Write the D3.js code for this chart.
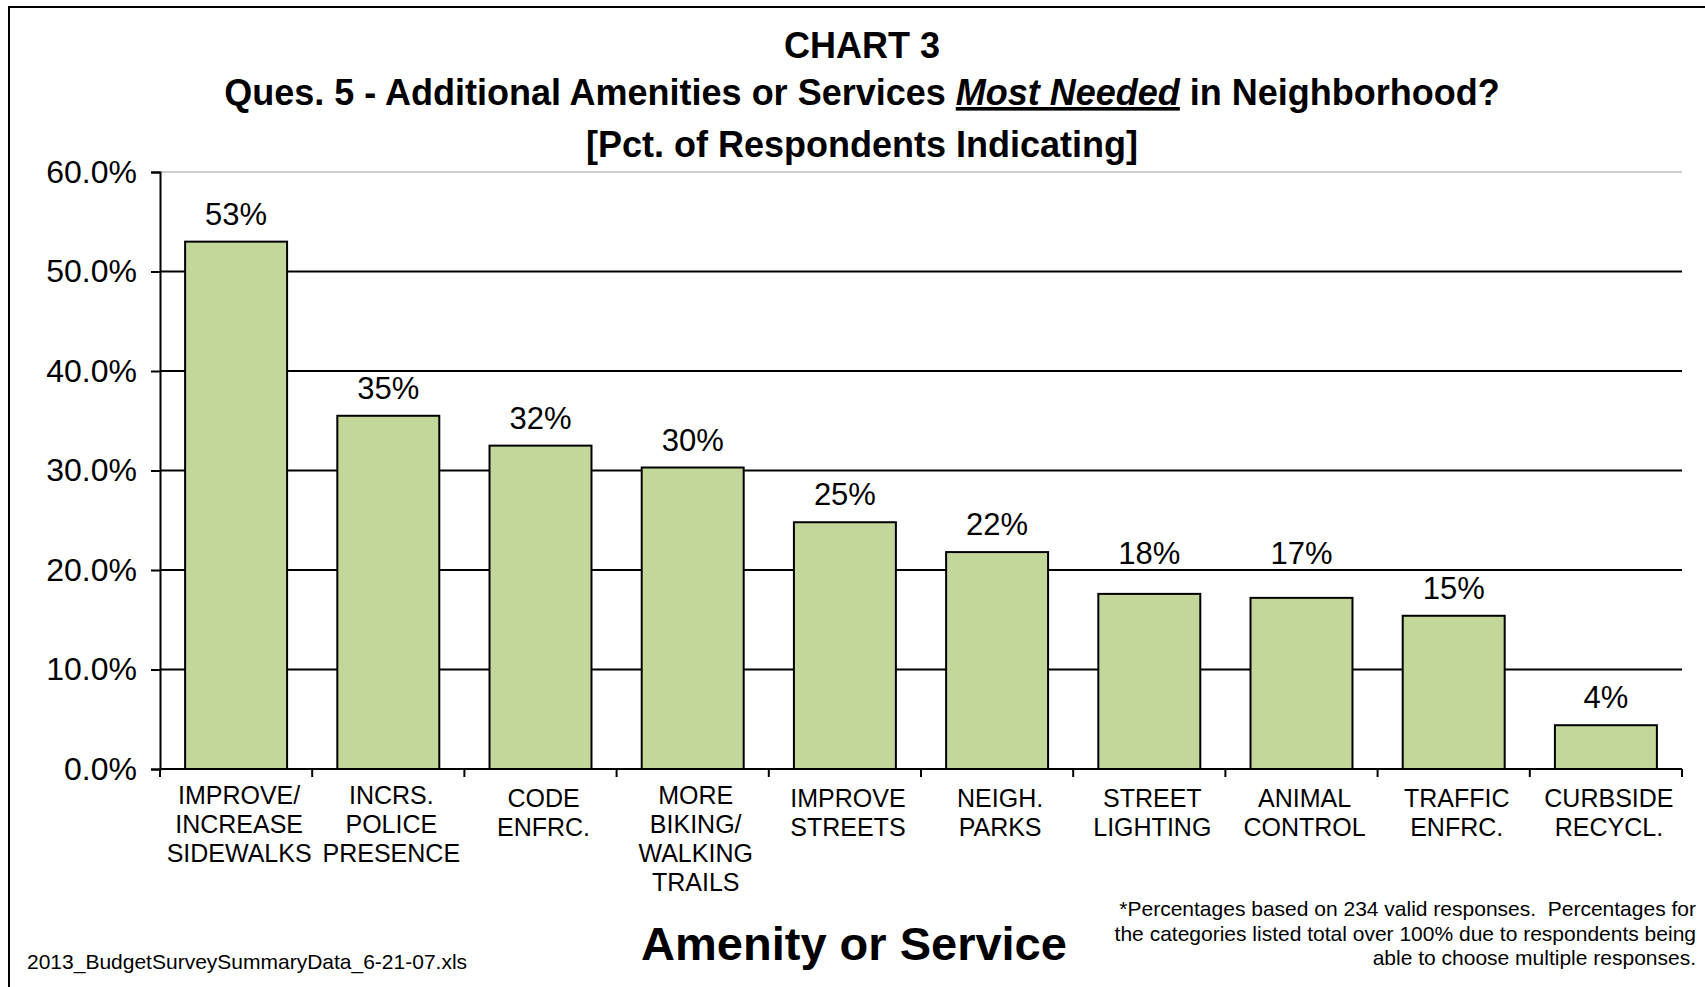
<!DOCTYPE html>
<html>
<head>
<meta charset="utf-8">
<script src="https://cdn.jsdelivr.net/npm/d3@7"></script>
<style>
  body { margin: 0; background: #fff; }
  text { font-family: "Liberation Sans", Arial, sans-serif; fill: #000; }
</style>
</head>
<body>
<div id="chart"></div>
<script>
// data
const categories = [
  ["IMPROVE/", "INCREASE", "SIDEWALKS"],
  ["INCRS.", "POLICE", "PRESENCE"],
  ["CODE", "ENFRC."],
  ["MORE", "BIKING/", "WALKING", "TRAILS"],
  ["IMPROVE", "STREETS"],
  ["NEIGH.", "PARKS"],
  ["STREET", "LIGHTING"],
  ["ANIMAL", "CONTROL"],
  ["TRAFFIC", "ENFRC."],
  ["CURBSIDE", "RECYCL."]
];
const values = [53.0, 35.5, 32.5, 30.3, 24.8, 21.8, 17.6, 17.2, 15.4, 4.4];
const valueLabels = ["53%", "35%", "32%", "30%", "25%", "22%", "18%", "17%", "15%", "4%"];
const yTicks = [0, 10, 20, 30, 40, 50, 60];

const W = 1705, H = 987;
const margin = { left: 160, right: 23, top: 172, bottom: 218 };

const svg = d3.select("#chart").append("svg")
  .attr("width", W)
  .attr("height", H);

// borde del gráfico
svg.append("rect")
  .attr("x", 9).attr("y", 7)
  .attr("width", 1720).attr("height", 1000)
  .attr("fill", "none")
  .attr("stroke", "#000")
  .attr("stroke-width", 2);

const x = d3.scaleBand()
  .domain(d3.range(categories.length))
  .range([margin.left, W - margin.right])
  .paddingInner(0.33)
  .paddingOuter(0.165);

const y = d3.scaleLinear()
  .domain([0, 60])
  .range([H - margin.bottom, margin.top]);

// gridlines
const gridVals = yTicks.filter(d => d > 0);
svg.append("g")
  .selectAll("line")
  .data(gridVals)
  .join("line")
    .attr("x1", margin.left)
    .attr("x2", W - margin.right)
    .attr("y1", d => y(d))
    .attr("y2", d => y(d))
    .attr("stroke", d => d === 60 ? "#c0c0c0" : "#000")
    .attr("stroke-width", d => d === 60 ? 1.5 : 2);

// bars
svg.append("g")
  .selectAll("rect")
  .data(values)
  .join("rect")
    .attr("x", (d, i) => x(i))
    .attr("y", d => y(d))
    .attr("width", x.bandwidth())
    .attr("height", d => y(0) - y(d))
    .attr("fill", "#c4d79b")
    .attr("stroke", "#000")
    .attr("stroke-width", 2);

// value labels: moved above a gridline when they would sit on it
function labelY(v) {
  let base = y(v) - 17;
  gridVals.forEach(g => {
    const gy = y(g);
    if (gy > base - 24 && gy < base + 4) base = gy - 6;
  });
  return base;
}
svg.append("g")
  .selectAll("text")
  .data(values)
  .join("text")
    .attr("x", (d, i) => x(i) + x.bandwidth() / 2)
    .attr("y", d => labelY(d))
    .attr("text-anchor", "middle")
    .style("font-size", "31px")
    .text((d, i) => valueLabels[i]);

// y axis
const yAxis = svg.append("g")
  .attr("transform", `translate(${margin.left},0)`)
  .call(d3.axisLeft(y).tickValues(yTicks).tickSize(9).tickPadding(14)
    .tickFormat(d => d.toFixed(1) + "%"));
yAxis.select(".domain").attr("stroke", "#000").attr("stroke-width", 2);
yAxis.selectAll(".tick line").attr("stroke", "#000").attr("stroke-width", 2);
yAxis.selectAll(".tick text")
  .style("font-size", "32px")
  .style("font-family", "'Liberation Sans', Arial, sans-serif")
  .attr("fill", "#000");

// x axis line and ticks between categories
const step = x.step();
const xAxisG = svg.append("g");
xAxisG.append("line")
  .attr("x1", margin.left).attr("x2", W - margin.right)
  .attr("y1", y(0)).attr("y2", y(0))
  .attr("stroke", "#000").attr("stroke-width", 2);
xAxisG.selectAll("line.tk")
  .data(d3.range(categories.length + 1))
  .join("line")
    .attr("class", "tk")
    .attr("x1", i => margin.left + i * step)
    .attr("x2", i => margin.left + i * step)
    .attr("y1", y(0))
    .attr("y2", y(0) + 8)
    .attr("stroke", "#000").attr("stroke-width", 2);

// category labels
svg.append("g")
  .selectAll("text")
  .data(categories)
  .join("text")
    .attr("text-anchor", "middle")
    .style("font-size", "25px")
    .attr("transform", (d, i) => `translate(${x(i) + x.bandwidth() / 2 + 3},${y(0) + 35 + (d.length === 2 ? 3 : 0)})`)
    .selectAll("tspan")
    .data(d => d)
    .join("tspan")
      .attr("x", 0)
      .attr("dy", (d, i) => i === 0 ? 0 : 29)
      .text(d => d);

// titles
const cx = 862;
svg.append("text")
  .attr("x", cx).attr("y", 58)
  .attr("text-anchor", "middle")
  .style("font-size", "36px").style("font-weight", "bold")
  .text("CHART 3");

const t2 = svg.append("text")
  .attr("x", cx).attr("y", 105)
  .attr("text-anchor", "middle")
  .style("font-size", "36px").style("font-weight", "bold");
t2.append("tspan").text("Ques. 5 - Additional Amenities or Services ");
t2.append("tspan").style("font-style", "italic").style("text-decoration", "underline").text("Most Needed");
t2.append("tspan").text(" in Neighborhood?");

svg.append("text")
  .attr("x", cx).attr("y", 157)
  .attr("text-anchor", "middle")
  .style("font-size", "36px").style("font-weight", "bold")
  .text("[Pct. of Respondents Indicating]");

// axis title
svg.append("text")
  .attr("x", 854).attr("y", 960)
  .attr("text-anchor", "middle")
  .style("font-size", "47px").style("font-weight", "bold")
  .text("Amenity or Service");

// footnotes
const notes = [
  "*Percentages based on 234 valid responses.  Percentages for",
  "the categories listed total over 100% due to respondents being",
  "able to choose multiple responses."
];
svg.append("g")
  .selectAll("text")
  .data(notes)
  .join("text")
    .attr("x", 1696)
    .attr("y", (d, i) => 916 + i * 24.5)
    .attr("text-anchor", "end")
    .style("font-size", "21px")
    .style("white-space", "pre")
    .text(d => d);

svg.append("text")
  .attr("x", 27).attr("y", 969)
  .style("font-size", "21px")
  .text("2013_BudgetSurveySummaryData_6-21-07.xls");
</script>
</body>
</html>
